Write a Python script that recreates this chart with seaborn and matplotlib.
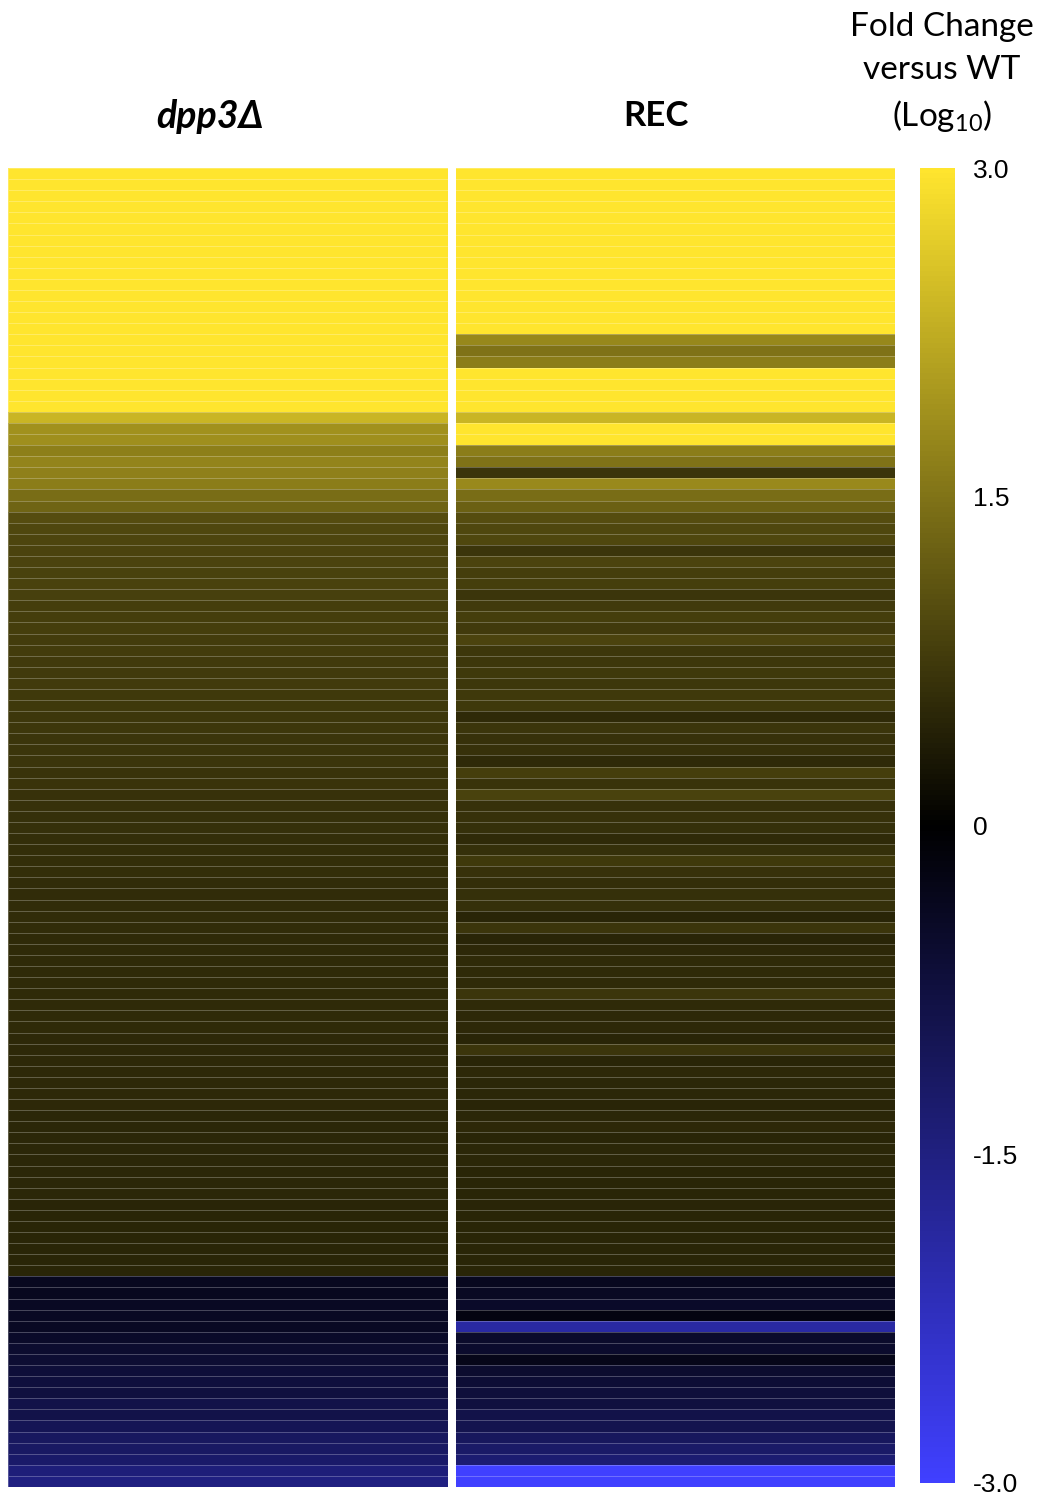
import numpy as np
import pandas as pd
import matplotlib
matplotlib.use("Agg")
import matplotlib.pyplot as plt
from matplotlib.colors import LinearSegmentedColormap
import seaborn as sns

# log10 fold change versus WT, one value per gene (rows), two strains (columns)
strains = ["dpp3Δ", "REC"]

dpp3_values = [
    3.0, 3.0, 3.0, 3.0, 3.0, 3.0, 3.0, 3.0, 3.0, 3.0, 3.0,
    3.0, 3.0, 3.0, 3.0, 3.0, 3.0, 3.0, 3.0, 3.0, 3.0, 3.0,
    2.35, 1.88, 1.86, 1.65, 1.72, 1.67, 1.62, 1.41, 1.29, 1.00, 0.92,
    0.90, 0.89, 0.88, 0.86, 0.85, 0.84, 0.82, 0.82, 0.80, 0.79, 0.78,
    0.77, 0.76, 0.75, 0.74, 0.73, 0.72, 0.71, 0.70, 0.69, 0.68, 0.67,
    0.66, 0.65, 0.64, 0.63, 0.62,
    0.60, 0.60, 0.59, 0.59, 0.58, 0.58, 0.57, 0.57, 0.57, 0.56, 0.56,
    0.56, 0.55, 0.55, 0.55, 0.54, 0.54, 0.54, 0.53, 0.53, 0.53, 0.52,
    0.52, 0.52, 0.52, 0.51, 0.51, 0.51, 0.51, 0.50, 0.50,
    0.50, 0.50, 0.49, 0.49, 0.49, 0.49, 0.48, 0.48, 0.48,
    -0.36, -0.36, -0.42, -0.42, -0.42, -0.49, -0.54, -0.59, -0.66, -0.71,
    -0.75, -0.85, -0.85, -1.00, -1.11, -1.16, -1.22, -1.41, -1.51,
]

rec_values = [
    3.0, 3.0, 3.0, 3.0, 3.0, 3.0, 3.0, 3.0, 3.0, 3.0, 3.0, 3.0, 3.0, 3.0, 3.0,
    1.77, 1.48, 1.62,
    3.0, 3.0, 3.0, 3.0,
    2.35, 3.0, 3.0,
    1.62, 1.48, 0.70, 1.79, 1.41, 1.25, 1.00, 0.92, 0.92,
    0.70, 0.87, 0.80, 0.80, 0.68, 0.75, 0.80, 0.75, 0.87, 0.71,
    0.71, 0.73, 0.71, 0.73, 0.73, 0.54, 0.68, 0.64, 0.64, 0.56,
    0.82, 0.66, 0.85, 0.64, 0.64, 0.61,
    0.56, 0.61, 0.73, 0.64, 0.59, 0.61, 0.61, 0.49, 0.68, 0.47,
    0.52, 0.54, 0.54, 0.56, 0.68, 0.54, 0.52, 0.52, 0.49, 0.68,
    0.47, 0.52,
    0.50, 0.51, 0.49, 0.50, 0.52, 0.49, 0.50, 0.51, 0.49,
    0.49, 0.49, 0.48, 0.49, 0.48, 0.48, 0.49, 0.48, 0.48,
    -0.36, -0.42, -0.47, -0.19, -1.90, -0.50, -0.52, -0.30, -0.56, -0.61,
    -0.68, -0.73, -0.85, -0.92, -1.08, -1.20, -1.32, -3.0, -3.0,
]

cbar_ticks = [3.0, 1.5, 0.0, -1.5, -3.0]
cbar_ticklabels = ["3.0", "1.5", "0", "-1.5", "-3.0"]

df = pd.DataFrame({strains[0]: dpp3_values, strains[1]: rec_values})

sns.set_style("white")
plt.rcParams["font.family"] = ["Lato", "Open Sans", "DejaVu Sans"]
plt.rcParams["text.color"] = "black"
plt.rcParams["ytick.color"] = "black"
plt.rcParams["ytick.labelcolor"] = "black"
plt.rcParams["mathtext.fontset"] = "custom"
plt.rcParams["mathtext.rm"] = "Lato"
plt.rcParams["mathtext.it"] = "Lato:italic"

cmap = LinearSegmentedColormap.from_list(
    "blue_black_yellow", ["#4040FF", "#000000", "#FFE52E"]
)

W, H = 1041, 1499
fig = plt.figure(figsize=(W / 100, H / 100), dpi=100)

ax = fig.add_axes([8 / W, 1 - 1487 / H, (895 - 8) / W, (1487 - 168) / H])
cax = fig.add_axes([920 / W, 1 - 1483 / H, 35 / W, (1483 - 168) / H])

sns.heatmap(
    df, ax=ax, cmap=cmap, vmin=-3, vmax=3, center=None,
    linewidths=0.7, linecolor=(1, 1, 1, 0.25),
    cbar=True, cbar_ax=cax,
    xticklabels=False, yticklabels=False,
)
# white gap between the two strain columns
ax.axvline(1, color="white", lw=8 * 72 / 100)

cbar = ax.collections[0].colorbar
cbar.outline.set_visible(False)
cbar.set_ticks(cbar_ticks)
cbar.set_ticklabels(cbar_ticklabels)
cbar.ax.tick_params(length=0, pad=13, labelsize=19, labelcolor="black")
for t in cbar.ax.get_yticklabels():
    t.set_fontfamily(["Liberation Sans", "DejaVu Sans"])

# column headers
fig.text(210 / W, 1 - 116 / H, "dpp3Δ", ha="center", va="center",
         fontsize=27, fontweight="bold", fontstyle="italic", color="black")
fig.text(656 / W, 1 - 116 / H, "REC", ha="center", va="center",
         fontsize=25, fontweight="bold", color="black")

# colour scale title
fig.text(942 / W, 1 - 27 / H, "Fold Change", ha="center", va="center", fontsize=24)
fig.text(942 / W, 1 - 70 / H, "versus WT", ha="center", va="center", fontsize=24)
fig.text(942 / W, 1 - 116 / H, r"(Log$_{\mathrm{10}}$)", ha="center", va="center", fontsize=24)

fig.savefig("out.png", dpi=100, facecolor="white")
